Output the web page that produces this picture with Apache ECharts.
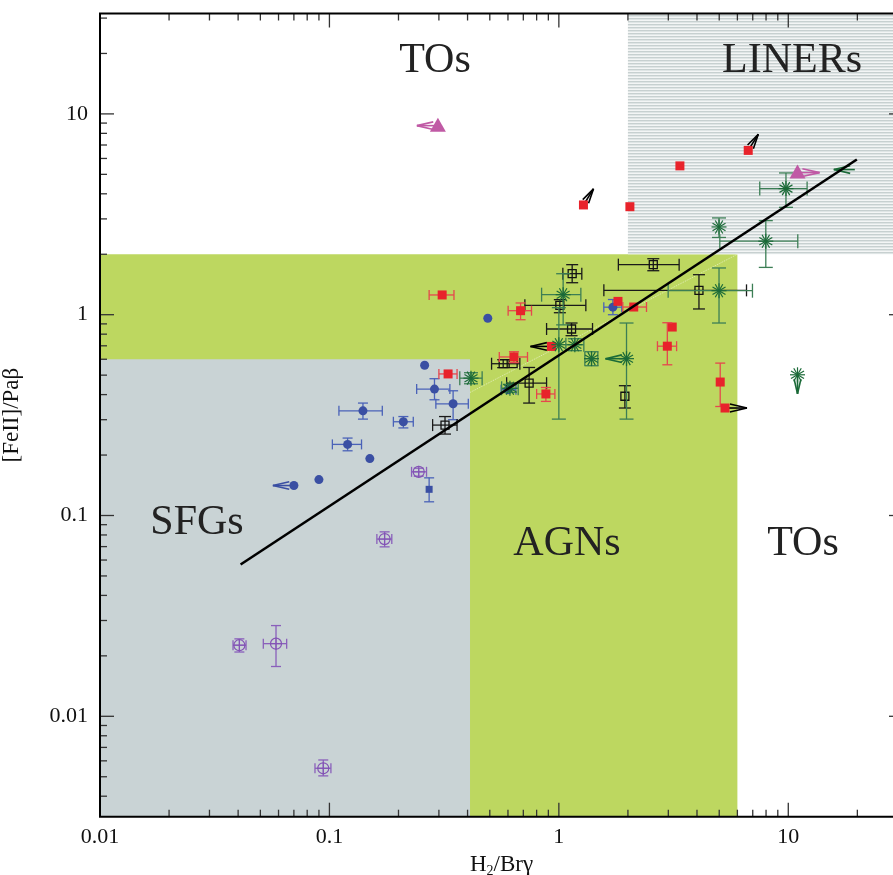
<!DOCTYPE html>
<html><head><meta charset="utf-8">
<script src="https://cdn.jsdelivr.net/npm/echarts@6/dist/echarts.min.js"></script>
<style>html,body{margin:0;padding:0;background:#fff}#c{width:893px;height:875px}</style>
</head><body><div id="c"></div>
<script>
// ---------- axis ranges & tick labels ----------
const X_MIN = 0.01, X_MAX = Math.pow(10, 1.5);
const Y_MIN = Math.pow(10, -2.5), Y_MAX = Math.pow(10, 1.5);
const tickExp = [-2, -1, 0, 1];
const tickLabels = ['0.01', '0.1', '1', '10'];

// ---------- diagnostic regions ----------
const regionNames = ['AGNs', 'SFGs', 'LINERs'];
const regionXLo = [0.01, 0.01, 2];
const regionXHi = [6, 0.41, X_MAX];
const regionYLo = [Y_MIN, Y_MIN, 2];
const regionYHi = [2, 0.6, Y_MAX];

// ---------- fit line ----------
const fitLine = [[0.041, 0.057], [19.9, 5.93]];
const faintLine = [[0.41, 0.41], [6, 2]];

// ---------- data: [x, y, xlo, xhi, ylo, yhi, limit] (0 = no error bar) ----------
const purpleCircles = [
  [0.245, 0.165, 0.228, 0.265, 0.157, 0.172, ''],
  [0.174, 0.0763, 0.161, 0.187, 0.0698, 0.0829, ''],
  [0.0405, 0.0226, 0.038, 0.0433, 0.0209, 0.0243, ''],
  [0.0585, 0.0230, 0.0515, 0.0651, 0.0177, 0.0283, ''],
  [0.094, 0.00551, 0.0865, 0.1015, 0.00505, 0.00606, '']
];
const blueCircles = [
  [0.49, 0.96, 0, 0, 0, 0, ''],
  [1.72, 1.09, 1.57, 1.88, 1.0, 1.19, ''],
  [0.26, 0.56, 0, 0, 0, 0, ''],
  [0.287, 0.426, 0.240, 0.335, 0.377, 0.480, ''],
  [0.346, 0.360, 0.291, 0.403, 0.300, 0.418, ''],
  [0.21, 0.293, 0.19, 0.232, 0.273, 0.311, ''],
  [0.140, 0.332, 0.110, 0.170, 0.302, 0.363, ''],
  [0.120, 0.226, 0.103, 0.138, 0.210, 0.243, ''],
  [0.150, 0.192, 0, 0, 0, 0, ''],
  [0.090, 0.151, 0, 0, 0, 0, ''],
  [0.070, 0.141, 0, 0, 0, 0, 'L'],
  [0.60, 0.423, 0.56, 0.65, 0, 0, '']
];
const blueSquares = [
  [0.272, 0.135, 0, 0, 0.117, 0.154, '']
];
const blackSquares = [
  [1.143, 1.601, 1.041, 1.259, 1.443, 1.775, ''],
  [1.010, 1.113, 0.711, 1.311, 1.023, 1.188, ''],
  [2.58, 1.775, 1.817, 3.344, 1.656, 1.90, ''],
  [4.08, 1.322, 1.571, 6.575, 1.068, 1.582, ''],
  [1.136, 0.849, 0.884, 1.402, 0.786, 0.909, ''],
  [0.572, 0.570, 0.509, 0.676, 0.545, 0.597, ''],
  [0.632, 0.570, 0, 0, 0, 0, ''],
  [0.742, 0.456, 0.592, 0.884, 0.363, 0.546, ''],
  [0.319, 0.282, 0.2817, 0.360, 0.2544, 0.311, ''],
  [1.94, 0.3925, 0, 0, 0.343, 0.443, '']
];
const redSquares = [
  [1.28, 3.52, 0, 0, 0, 0, 'UR'],
  [2.04, 3.45, 0, 0, 0, 0, ''],
  [3.37, 5.51, 0, 0, 0, 0, ''],
  [6.69, 6.58, 0, 0, 0, 0, 'UR'],
  [0.310, 1.254, 0.272, 0.349, 0, 0, ''],
  [0.681, 1.047, 0.601, 0.760, 0.944, 1.144, ''],
  [1.81, 1.165, 0, 0, 0, 0, ''],
  [2.12, 1.092, 1.90, 2.41, 0, 0, ''],
  [3.12, 0.868, 0, 0, 0, 0, ''],
  [2.97, 0.697, 2.69, 3.26, 0.563, 0.912, ''],
  [5.05, 0.462, 0, 0, 0.349, 0.574, ''],
  [5.30, 0.343, 0, 0, 0, 0, 'R'],
  [0.929, 0.695, 0, 0, 0, 0, 'L'],
  [0.637, 0.616, 0.550, 0.730, 0.577, 0.654, ''],
  [0.329, 0.507, 0.300, 0.360, 0, 0, ''],
  [0.878, 0.403, 0.80, 0.961, 0.370, 0.434, '']
];
const greenStars = [
  [1.044, 1.258, 0.841, 1.247, 0.89, 1.60, ''],
  [1.0, 0.709, 0, 0, 0.302, 1.084, ''],
  [1.174, 0.709, 1.073, 1.285, 0.662, 0.759, ''],
  [1.388, 0.604, 1.298, 1.479, 0.557, 0.654, ''],
  [1.972, 0.604, 0, 0, 0.302, 0.909, 'L'],
  [0.414, 0.483, 0.370, 0.463, 0.453, 0.514, ''],
  [0.612, 0.430, 0.563, 0.665, 0.41, 0.45, ''],
  [4.99, 2.735, 0, 0, 2.425, 3.033, ''],
  [4.99, 1.317, 2.995, 6.98, 0.909, 1.709, ''],
  [7.98, 2.323, 5.03, 11.0, 1.72, 2.94, ''],
  [9.77, 4.245, 7.51, 12.08, 3.425, 5.08, ''],
  [10.97, 0.502, 0, 0, 0, 0, 'D'],
  [19.5, 5.28, 0, 0, 0, 0, 'Lonly']
];
const magentaTriangles = [
  [0.297, 8.74, 0, 0, 0, 0, 'L'],
  [10.97, 5.10, 0, 0, 0, 0, 'R']
];

// ---------- styles ----------
const hatch = document.createElement('canvas');
hatch.width = 4; hatch.height = 3;
(function () {
  const g = hatch.getContext('2d');
  g.fillStyle = '#f3f5f5'; g.fillRect(0, 0, 4, 3);
  g.fillStyle = '#c7d0d0'; g.fillRect(0, 0, 4, 1);
  g.fillStyle = '#dfe5e5'; g.fillRect(0, 1, 4, 1);
})();
const regionFills = ['#bdd760', '#c9d3d5', { image: hatch, repeat: 'repeat' }];
const SERIF = '"Liberation Serif", "Times New Roman", serif';

function arrowShapes(c, angleDeg, len, color) {
  const a = angleDeg * Math.PI / 180;
  const tip = [c[0] + len * Math.cos(a), c[1] + len * Math.sin(a)];
  const out = [{ type: 'line', shape: { x1: c[0], y1: c[1], x2: tip[0], y2: tip[1] }, style: { stroke: color, lineWidth: 1.6 } }];
  const bl = len * 0.8, spread = 13 * Math.PI / 180;
  [-1, 1].forEach(s => {
    const b = a + Math.PI + s * spread;
    out.push({ type: 'line', shape: { x1: tip[0], y1: tip[1], x2: tip[0] + bl * Math.cos(b), y2: tip[1] + bl * Math.sin(b) }, style: { stroke: color, lineWidth: 1.6 } });
  });
  return out;
}

function markerShapes(kind, c, color) {
  const [x, y] = c;
  switch (kind) {
    case 'circle': return [{ type: 'circle', shape: { cx: x, cy: y, r: 4.5 }, style: { fill: color } }];
    case 'smallsquare': return [{ type: 'rect', shape: { x: x - 3.5, y: y - 3.5, width: 7, height: 7 }, style: { fill: color } }];
    case 'square': return [{ type: 'rect', shape: { x: x - 4.5, y: y - 4.5, width: 9, height: 9 }, style: { fill: color } }];
    case 'opensquare': return [{ type: 'rect', shape: { x: x - 4, y: y - 4, width: 8, height: 8 }, style: { fill: null, stroke: color, lineWidth: 1.3 } }];
    case 'ocircle': return [
      { type: 'circle', shape: { cx: x, cy: y, r: 5.5 }, style: { fill: null, stroke: color, lineWidth: 1.2 } },
      { type: 'line', shape: { x1: x - 6, y1: y, x2: x + 6, y2: y }, style: { stroke: color, lineWidth: 1 } },
      { type: 'line', shape: { x1: x, y1: y - 6, x2: x, y2: y + 6 }, style: { stroke: color, lineWidth: 1 } }];
    case 'star': {
      const out = [];
      for (let k = 0; k < 6; k++) {
        const a = k * Math.PI / 6, r = 7.5;
        out.push({ type: 'line', shape: { x1: x - r * Math.cos(a), y1: y - r * Math.sin(a), x2: x + r * Math.cos(a), y2: y + r * Math.sin(a) }, style: { stroke: color, lineWidth: 1.2 } });
      }
      return out;
    }
    case 'triangle': return [{ type: 'polygon', shape: { points: [[x, y - 8], [x - 8, y + 6], [x + 8, y + 6]] }, style: { fill: color } }];
  }
  return [];
}

function pointSeries(name, rows, kind, color, barColor, arrowColor, cap, z) {
  return {
    type: 'custom', name, z, silent: true,
    data: rows.map(r => [r[0], r[1]]),
    renderItem(params, api) {
      const r = rows[params.dataIndex];
      const c = api.coord([r[0], r[1]]);
      const ch = [];
      const bs = { stroke: barColor, lineWidth: 1.3 };
      if (r[2] > 0 && r[3] > 0) {
        const a = api.coord([r[2], r[1]]), b = api.coord([r[3], r[1]]);
        ch.push({ type: 'line', shape: { x1: a[0], y1: c[1], x2: b[0], y2: c[1] }, style: bs });
        ch.push({ type: 'line', shape: { x1: a[0], y1: c[1] - cap, x2: a[0], y2: c[1] + cap }, style: bs });
        ch.push({ type: 'line', shape: { x1: b[0], y1: c[1] - cap, x2: b[0], y2: c[1] + cap }, style: bs });
      }
      if (r[4] > 0 && r[5] > 0) {
        const a = api.coord([r[0], r[4]]), b = api.coord([r[0], r[5]]);
        ch.push({ type: 'line', shape: { x1: c[0], y1: a[1], x2: c[0], y2: b[1] }, style: bs });
        ch.push({ type: 'line', shape: { x1: c[0] - cap, y1: a[1], x2: c[0] + cap, y2: a[1] }, style: bs });
        ch.push({ type: 'line', shape: { x1: c[0] - cap, y1: b[1], x2: c[0] + cap, y2: b[1] }, style: bs });
      }
      const lim = r[6];
      if (lim === 'L' || lim === 'Lonly') ch.push(...arrowShapes(c, 180, 21, arrowColor));
      if (lim === 'R') ch.push(...arrowShapes(c, 0, 22, arrowColor));
      if (lim === 'D') ch.push(...arrowShapes(c, 90, 19, arrowColor));
      if (lim === 'UR') ch.push(...arrowShapes(c, -58, 19, arrowColor));
      if (lim !== 'Lonly') ch.push(...markerShapes(kind, c, color));
      return { type: 'group', children: ch };
    }
  };
}

const chart = echarts.init(document.getElementById('c'), null, { renderer: 'canvas' });

function tickFormatter(v) {
  const l = Math.log10(v), k = Math.round(l);
  if (Math.abs(l - k) > 1e-4) return '';
  const i = tickExp.indexOf(k);
  return i >= 0 ? tickLabels[i] : '';
}

const option = {
  animation: false,
  backgroundColor: '#fff',
  grid: { left: 100, top: 13.5, right: -10, bottom: 58.3, outerBoundsMode: 'none', containLabel: false },
  xAxis: {
    type: 'log', logBase: 10, min: X_MIN, max: X_MAX,
    name: 'H{sub|2}/Brγ', nameLocation: 'middle', nameGap: 27,
    nameTextStyle: { fontFamily: SERIF, fontSize: 23, color: '#111', rich: { sub: { fontFamily: SERIF, fontSize: 14, color: '#111', verticalAlign: 'bottom', padding: [12, 0, 0, 0] } } },
    axisLine: { show: false }, axisTick: { show: false }, splitLine: { show: false }, minorTick: { show: false },
    axisLabel: { interval: 0, margin: 10, fontFamily: SERIF, fontSize: 22, color: '#111', formatter: tickFormatter, showMinLabel: true, showMaxLabel: true }
  },
  yAxis: {
    type: 'log', logBase: 10, min: Y_MIN, max: Y_MAX,
    name: '[FeII]/Paβ', nameLocation: 'middle', nameGap: 77,
    nameTextStyle: { fontFamily: SERIF, fontSize: 23, color: '#111' },
    axisLine: { show: false }, axisTick: { show: false }, splitLine: { show: false }, minorTick: { show: false },
    axisLabel: { interval: 0, margin: 12, fontFamily: SERIF, fontSize: 22, color: '#111', formatter: tickFormatter, showMinLabel: true, showMaxLabel: true }
  },
  series: [
    {
      type: 'custom', name: 'regions', z: 1, silent: true, clip: true,
      data: regionNames.map((n, i) => [regionXLo[i], regionYLo[i]]),
      renderItem(params, api) {
        const i = params.dataIndex;
        const p0 = api.coord([regionXLo[i], regionYHi[i]]);
        const p1 = api.coord([regionXHi[i], regionYLo[i]]);
        return { type: 'rect', shape: { x: p0[0], y: p0[1], width: p1[0] - p0[0], height: p1[1] - p0[1] }, style: { fill: regionFills[i] } };
      }
    },
    {
      type: 'line', name: 'faint', z: 2, silent: true, symbol: 'none', data: faintLine,
      lineStyle: { color: 'rgba(255,255,255,0.55)', width: 1, type: 'dotted' }
    },
    pointSeries('purple', purpleCircles, 'ocircle', '#8353b5', '#8a5fbb', '#8353b5', 5, 3),
    pointSeries('blue', blueCircles, 'circle', '#3a4fa3', '#4a62b8', '#3a4fa3', 5, 3),
    pointSeries('bluesq', blueSquares, 'smallsquare', '#3a4fa3', '#4a62b8', '#3a4fa3', 5, 3),
    pointSeries('black', blackSquares, 'opensquare', '#111', '#1a1a1a', '#111', 6, 4),
    pointSeries('red', redSquares, 'square', '#e8232b', '#e6474d', '#000', 5, 4),
    pointSeries('green', greenStars, 'star', '#1b6a38', '#3c7e55', '#1b6a38', 7, 4),
    pointSeries('magenta', magentaTriangles, 'triangle', '#c05aa5', '#c05aa5', '#c05aa5', 5, 4),
    {
      type: 'line', name: 'fit', z: 6, silent: true, symbol: 'none', data: fitLine,
      lineStyle: { color: '#000', width: 2.6 }
    },
    {
      type: 'custom', name: 'frame', z: 10, silent: true, clip: false,
      data: [[1, 1]],
      renderItem(params, api) {
        const cs = params.coordSys;
        const L = cs.x, T = cs.y, R = cs.x + cs.width, B = cs.y + cs.height;
        const ch = [];
        const ts = { stroke: '#333', lineWidth: 1.3 };
        for (let e = -3; e <= 2; e++) {
          for (let m = 1; m <= 9; m++) {
            const v = m * Math.pow(10, e);
            const len = m === 1 ? 14 : 7;
            if (v >= X_MIN * 0.9999 && v <= X_MAX * 1.0001) {
              const px = api.coord([v, 1])[0];
              ch.push({ type: 'line', shape: { x1: px, y1: B, x2: px, y2: B - len }, style: ts });
              ch.push({ type: 'line', shape: { x1: px, y1: T, x2: px, y2: T + len }, style: ts });
            }
            if (v >= Y_MIN * 0.9999 && v <= Y_MAX * 1.0001) {
              const py = api.coord([1, v])[1];
              ch.push({ type: 'line', shape: { x1: L, y1: py, x2: L + len, y2: py }, style: ts });
              ch.push({ type: 'line', shape: { x1: R, y1: py, x2: R - len, y2: py }, style: ts });
            }
          }
        }
        ch.push({ type: 'rect', shape: { x: L, y: T, width: R - L, height: B - T }, style: { fill: null, stroke: '#000', lineWidth: 2 } });
        return { type: 'group', children: ch };
      }
    }
  ],
  graphic: [
    { type: 'text', x: 435, y: 61, z: 8, style: { text: 'TOs', font: '42px ' + SERIF, fill: '#222', textAlign: 'center', textVerticalAlign: 'middle' } },
    { type: 'text', x: 792, y: 61, z: 8, style: { text: 'LINERs', font: '42px ' + SERIF, fill: '#222', textAlign: 'center', textVerticalAlign: 'middle' } },
    { type: 'text', x: 197, y: 523, z: 8, style: { text: 'SFGs', font: '42px ' + SERIF, fill: '#222', textAlign: 'center', textVerticalAlign: 'middle' } },
    { type: 'text', x: 567, y: 544, z: 8, style: { text: 'AGNs', font: '42px ' + SERIF, fill: '#222', textAlign: 'center', textVerticalAlign: 'middle' } },
    { type: 'text', x: 803, y: 544, z: 8, style: { text: 'TOs', font: '42px ' + SERIF, fill: '#222', textAlign: 'center', textVerticalAlign: 'middle' } }
  ]
};
chart.setOption(option);
</script>
</body></html>
